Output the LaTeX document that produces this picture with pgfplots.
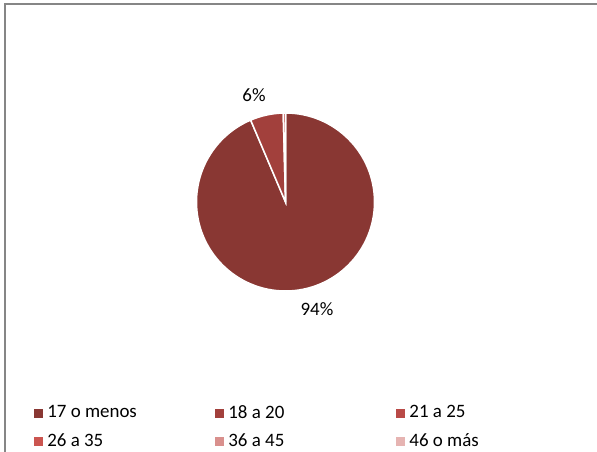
\documentclass[border=0pt]{standalone}
\usepackage{pgfplots}
\usepackage{pgfplotstable}
\usepackage{fontspec}
\setmainfont{Carlito}
\pgfplotsset{compat=1.18}

\definecolor{c0}{RGB}{137,55,51}
\definecolor{c1}{RGB}{162,64,60}
\definecolor{c2}{RGB}{185,74,71}
\definecolor{c3}{RGB}{203,85,80}
\definecolor{c4}{RGB}{217,144,141}
\definecolor{c5}{RGB}{230,180,178}
\definecolor{framegray}{RGB}{134,134,134}

% age groups, percent of answers
\pgfplotstableread{
grupo value
{17 o menos} 93.6
{18 a 20} 6.0
{21 a 25} 0.4
{26 a 35} 0
{36 a 45} 0
{46 o más} 0
}\agedata

\begin{document}%
\fontsize{19}{23}\selectfont%
\begin{tikzpicture}
\useasboundingbox (0,0) rectangle (597bp,452bp);
\clip (0,0) rectangle (597bp,452bp);
\draw[framegray, line width=2bp] (4.5bp,-10bp) rectangle (610bp,447.5bp);

% slice angles, clockwise from 12 o'clock
\def\cum{90}
\foreach \i in {0,...,5}{
  \pgfplotstablegetelem{\i}{value}\of\agedata
  \pgfmathsetmacro\tmpa{\cum}
  \pgfmathsetmacro\tmpb{\cum-3.6*\pgfplotsretval}
  \global\expandafter\let\csname sa\i\endcsname\tmpa
  \global\expandafter\let\csname sb\i\endcsname\tmpb
  \global\let\cum\tmpb
}

\begin{axis}[
  at={(0,0)}, anchor=origin,
  x=1bp, y=1bp,
  xmin=0, xmax=597, ymin=0, ymax=452,
  hide axis,
  clip=false,
  legend columns=3,
  legend cell align=left,
  legend style={at={(axis cs:34,49)}, anchor=north west, draw=none, fill=none,
    inner sep=0pt, row sep=8.5bp,
    /tikz/every odd column/.append style={column sep=2.7bp}},
  ]
  \pgfplotsinvokeforeach{0,...,5}{
    \fill[c#1, draw=white, line width=1.5bp] (axis cs:285.5,250)
      -- ++(\csname sa#1\endcsname:89bp)
      arc[start angle=\csname sa#1\endcsname, end angle=\csname sb#1\endcsname, radius=89bp]
      -- cycle;
  }
  \node at (axis cs:254,357) {6\%};
  \node at (axis cs:317,143) {94\%};

  \addlegendimage{legend image code/.code={\fill[c0] (0bp,-4bp) rectangle (8bp,4bp);}}
  \addlegendimage{legend image code/.code={\fill[c1] (0bp,-4bp) rectangle (8bp,4bp);}}
  \addlegendimage{legend image code/.code={\fill[c2] (0bp,-4bp) rectangle (8bp,4bp);}}
  \addlegendimage{legend image code/.code={\fill[c3] (0bp,-4bp) rectangle (8bp,4bp);}}
  \addlegendimage{legend image code/.code={\fill[c4] (0bp,-4bp) rectangle (8bp,4bp);}}
  \addlegendimage{legend image code/.code={\fill[c5] (0bp,-4bp) rectangle (8bp,4bp);}}
  \legend{\makebox[166bp][l]{17 o menos}, \makebox[166bp][l]{18 a 20}, \makebox[166bp][l]{21 a 25},
    \makebox[166bp][l]{26 a 35}, \makebox[166bp][l]{36 a 45}, \makebox[166bp][l]{46 o más}}
\end{axis}
\end{tikzpicture}
\end{document}
